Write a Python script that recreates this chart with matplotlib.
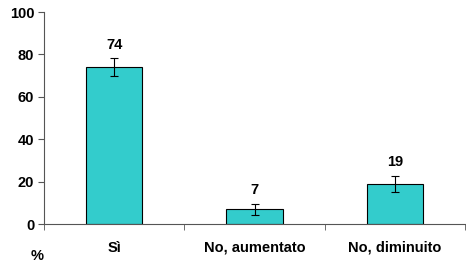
import numpy as np
import matplotlib.pyplot as plt

plt.rcParams['font.family'] = ['Liberation Sans', 'DejaVu Sans']
plt.rcParams['font.weight'] = 'bold'

categorie = ['Sì', 'No, aumentato', 'No, diminuito']
valori = [74, 7, 19]
errori = [4.2, 2.6, 3.8]

fig = plt.figure(figsize=(4.66, 2.64), dpi=100)
ax = fig.add_axes([44/466, 40/264, 421/466, 212/264])

x = np.arange(len(categorie))
ax.bar(x, valori, width=0.4, color='#33CCCC', edgecolor='black', linewidth=0.8,
       yerr=errori, error_kw=dict(ecolor='black', elinewidth=0.8, capsize=3, capthick=0.8))

for xi, v, e in zip(x, valori, errori):
    ax.text(xi, v + e + 3, str(v), ha='center', va='bottom', fontsize=10.5, fontweight='bold')

ax.set_xlim(-0.5, len(categorie) - 0.5)
ax.set_ylim(0, 100)
ax.set_yticks(range(0, 101, 20))
ax.set_xticks(x)
ax.set_xticklabels(categorie, fontsize=10.5, fontweight='bold')
ax.set_xticks(np.arange(-0.5, len(categorie)), minor=True)
ax.tick_params(axis='x', which='major', length=0, pad=12)
ax.tick_params(axis='x', which='minor', length=4, direction='out', color='#555555')
ax.tick_params(axis='y', labelsize=10.5, length=4, color='#555555', pad=3)
for lab in ax.get_yticklabels():
    lab.set_fontweight('bold')

ax.spines['top'].set_visible(False)
ax.spines['right'].set_visible(False)
ax.spines['left'].set_color('#555555')
ax.spines['bottom'].set_color('#555555')

fig.text(37/466, 1 - 256/264, '%', ha='center', va='center', fontsize=10.5, fontweight='bold')

fig.savefig('out.png', dpi=100)
